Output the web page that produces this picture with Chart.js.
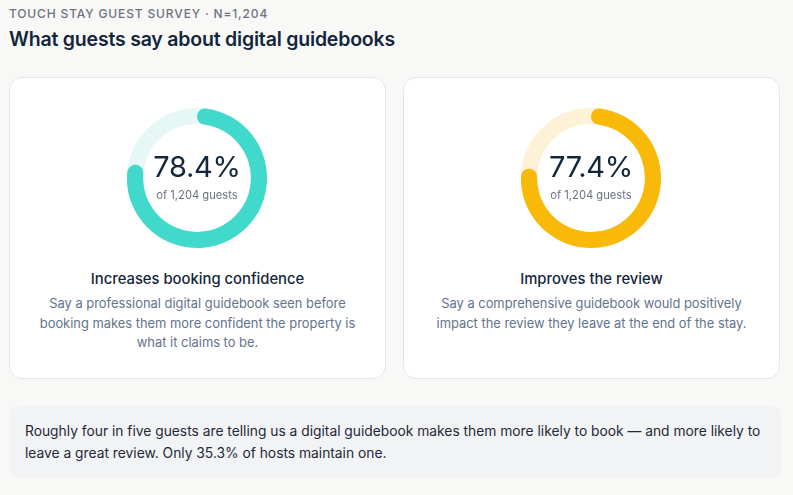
<!DOCTYPE html>
<html>
<head>
<meta charset="utf-8">
<script src="https://cdn.jsdelivr.net/npm/chart.js@4.4.1/dist/chart.umd.min.js"></script>
<style>
  html, body { margin: 0; padding: 0; }
  body { width: 793px; height: 495px; background: #f8f8f7; font-family: Inter, "Noto Sans", sans-serif; color: #15253a; overflow: hidden; position: relative; }
  .eyebrow { position: absolute; left: 9px; top: 6px; font-size: 12px; letter-spacing: 0.85px; color: #6b7280; font-weight: 500; }
  .title { position: absolute; left: 9px; top: 27px; font-size: 19.5px; font-weight: 600; color: #14263b; letter-spacing: -0.2px; }
  .card { position: absolute; top: 77px; width: 377px; height: 302px; background: #fff; border: 1px solid #e6e7ec; border-radius: 13px; box-sizing: border-box; }
  .c1 { left: 9px; }
  .c2 { left: 403px; }
  .donut { position: absolute; left: 117px; top: 30px; width: 140px; height: 140px; }
  .center { position: absolute; left: 0; top: 0; width: 140px; height: 140px; pointer-events: none; }
  .pct { position: absolute; left: 0; width: 140px; top: 41px; text-align: center; font-size: 29px; font-weight: 400; color: #14263b; letter-spacing: -0.3px; }
  .sub { position: absolute; left: 0; width: 140px; top: 80px; text-align: center; font-size: 11.2px; color: #6b7280; }
  .ctitle { position: absolute; left: 0; width: 100%; top: 192px; text-align: center; font-size: 14.8px; font-weight: 500; color: #14263b; }
  .cdesc { position: absolute; left: 24px; right: 24px; top: 216px; text-align: center; font-size: 12.9px; line-height: 19.5px; color: #64748b; }
  .note { position: absolute; left: 9px; top: 405px; width: 772px; height: 73px; background: #f2f3f5; border-radius: 10px; box-sizing: border-box; padding: 15px 4px 15px 16px; font-size: 13.8px; line-height: 22px; color: #1f2937; }
</style>
</head>
<body>
<div class="eyebrow">TOUCH STAY GUEST SURVEY · N=1,204</div>
<div class="title">What guests say about digital guidebooks</div>

<div class="card c1">
  <div class="donut"><canvas id="d1" width="140" height="140"></canvas>
    <div class="center"><div class="pct" id="p1"></div><div class="sub" id="s1"></div></div>
  </div>
  <div class="ctitle" id="t1"></div>
  <div class="cdesc" id="x1"></div>
</div>
<div class="card c2">
  <div class="donut"><canvas id="d2" width="140" height="140"></canvas>
    <div class="center"><div class="pct" id="p2"></div><div class="sub" id="s2"></div></div>
  </div>
  <div class="ctitle" id="t2"></div>
  <div class="cdesc" id="x2"></div>
</div>

<div class="note">Roughly four in five guests are telling us a digital guidebook makes them more likely to book — and more likely to leave a great review. Only 35.3% of hosts maintain one.</div>

<script>
const metrics = ["Increases booking confidence", "Improves the review"];
const percentages = [78.4, 77.4];
const sampleSize = 1204;
const descriptions = [
  "Say a professional digital guidebook seen before booking makes them more confident the property is what it claims to be.",
  "Say a comprehensive guidebook would positively impact the review they leave at the end of the stay."
];
const mainColors = ["#40d9cb", "#f9b908"];
const trackColors = ["#e5f8f5", "#fdf2d7"];

const trackPlugin = {
  id: 'track',
  beforeDatasetsDraw(chart, args, opts) {
    const meta = chart.getDatasetMeta(0);
    const arc = meta.data[0];
    if (!arc) return;
    const { x, y, innerRadius, outerRadius } = arc.getProps(['x','y','innerRadius','outerRadius'], true);
    const ctx = chart.ctx;
    ctx.save();
    ctx.beginPath();
    ctx.arc(x, y, (innerRadius + outerRadius) / 2, 0, Math.PI * 2);
    ctx.lineWidth = outerRadius - innerRadius;
    ctx.strokeStyle = opts.color;
    ctx.stroke();
    ctx.restore();
  }
};

metrics.forEach((m, i) => {
  const n = i + 1;
  document.getElementById('p' + n).textContent = percentages[i].toFixed(1) + '%';
  document.getElementById('s' + n).textContent = 'of ' + sampleSize.toLocaleString('en-US') + ' guests';
  document.getElementById('t' + n).textContent = m;
  document.getElementById('x' + n).textContent = descriptions[i];
  new Chart(document.getElementById('d' + n), {
    type: 'doughnut',
    data: {
      labels: [m, 'Other'],
      datasets: [{
        data: [percentages[i], 100 - percentages[i]],
        backgroundColor: [mainColors[i], 'rgba(0,0,0,0)'],
        borderWidth: 0,
        borderRadius: [8, 0]
      }]
    },
    options: {
      responsive: false,
      animation: false,
      cutout: '77%',
      layout: { padding: 0 },
      plugins: {
        legend: { display: false },
        tooltip: { enabled: false },
        track: { color: trackColors[i] }
      }
    },
    plugins: [trackPlugin]
  });
});
</script>
</body>
</html>
